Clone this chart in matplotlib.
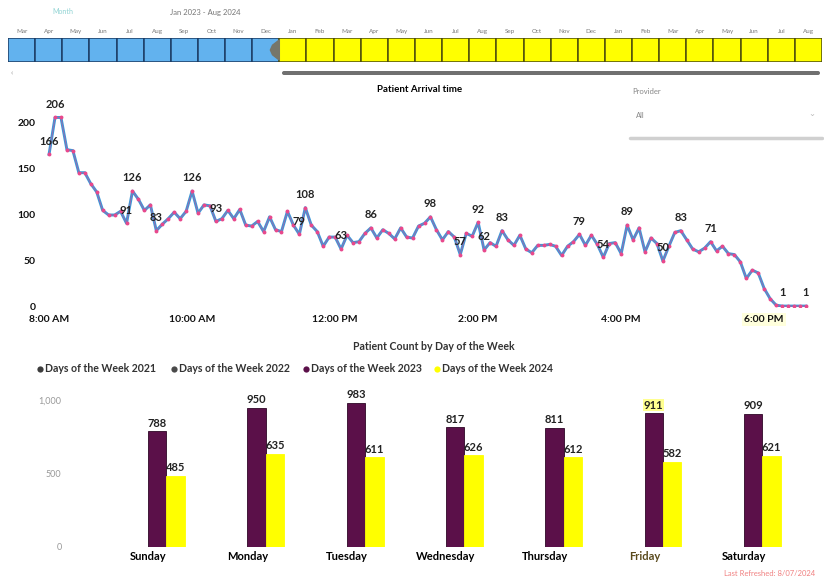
import matplotlib.pyplot as plt
from matplotlib.patches import Polygon, FancyBboxPatch

plt.rcParams['font.family'] = ['Lato', 'DejaVu Sans']

# timeline slicer months (Mar 2022 .. Aug 2024), selected range starts at Jan 2023
months = ['Mar', 'Apr', 'May', 'Jun', 'Jul', 'Aug', 'Sep', 'Oct', 'Nov', 'Dec',
          'Jan', 'Feb', 'Mar', 'Apr', 'May', 'Jun', 'Jul', 'Aug', 'Sep', 'Oct', 'Nov', 'Dec',
          'Jan', 'Feb', 'Mar', 'Apr', 'May', 'Jun', 'Jul', 'Aug']
selected_from = 10

# patient arrivals per 5 minute slot starting at 8:00 AM
arrivals = [166, 206, 206, 171, 170, 146, 146, 134, 125, 105, 100, 100, 104, 91, 126,
            117, 105, 111, 83, 90, 96, 103, 96, 104, 126,
            102, 111, 110, 93, 96, 105, 96, 106, 89, 88, 93, 82, 98, 84, 82,
            104, 89, 79, 108, 89, 82, 66, 76, 76, 63,
            78, 70, 71, 80, 86, 75, 84, 80, 74, 86, 76, 75, 88, 91, 98,
            84, 73, 82, 76, 57, 80, 77, 92, 62, 70,
            66, 83, 73, 67, 78, 63, 59, 67, 67, 68, 66, 56, 66, 71, 79,
            67, 78, 68, 54, 69, 70, 58, 89, 73, 86,
            60, 75, 69, 50, 66, 81, 83, 73, 63, 60, 64, 71, 61, 66, 58,
            57, 49, 31, 40, 37, 20, 9, 2, 1, 1, 1, 1, 1]
slot_minutes = [480 + 5 * i for i in range(len(arrivals))]
# slots whose value is printed on the chart
labelled = [0, 1, 13, 14, 18, 24, 28, 42, 43, 49, 54, 64, 69, 72, 73, 76,
            89, 93, 97, 103, 106, 111, 123, 127]
time_ticks = [480, 600, 720, 840, 960, 1080]
time_labels = ['8:00 AM', '10:00 AM', '12:00 PM', '2:00 PM', '4:00 PM', '6:00 PM']

days = ['Sunday', 'Monday', 'Tuesday', 'Wednesday', 'Thursday', 'Friday', 'Saturday']
years = ['2021', '2022', '2023', '2024']
count_2023 = [788, 950, 983, 817, 811, 911, 909]
count_2024 = [485, 635, 611, 626, 612, 582, 621]
year_colors = ['#3c3c3c', '#4a4a4a', '#5b1049', '#ffff00']

W, H = 824, 581
fig = plt.figure(figsize=(W / 100, H / 100), dpi=100)


def px_axes(l, t, r, b):
    return fig.add_axes([l / W, 1 - b / H, (r - l) / W, (b - t) / H])


# pixel canvas for the report chrome
bg = px_axes(0, 0, W, H)
bg.set_xlim(0, W)
bg.set_ylim(H, 0)
bg.axis('off')

# ---- timeline slicer ----
bg.text(63, 12, 'Month', fontsize=5, color='#8fd3d3', ha='center', va='center')
bg.text(205, 12, 'Jan 2023 - Aug 2024', fontsize=5.5, color='#777777', ha='center', va='center')
tl = px_axes(8, 38, 822, 62)
tl.set_xlim(0, len(months))
tl.set_ylim(0, 1)
tl.axis('off')
for i, m in enumerate(months):
    sel = i >= selected_from
    tl.bar(i, 1, width=1, align='edge', color='#ffff00' if sel else '#62b2ee',
           edgecolor='#4e4e0c' if sel else '#1c3d66', linewidth=1.1)
    tl.text(i + 0.5, 1.28, m, fontsize=4.5, color='#777777', ha='center', va='center', clip_on=False)
tl.add_patch(Polygon([[selected_from, 0.08], [selected_from - 0.25, 0.3], [selected_from - 0.33, 0.5],
                      [selected_from - 0.25, 0.7], [selected_from, 0.92]],
                     closed=True, color='#76766a', zorder=5))
bg.add_patch(FancyBboxPatch((282, 71), 538, 4, boxstyle='round,pad=0,rounding_size=2',
                            color='#707070', lw=0))
bg.text(12, 73, '‹', fontsize=6, color='#999999', ha='center', va='center')

# ---- provider slicer ----
bg.text(632, 92, 'Provider', fontsize=5.5, color='#888888', va='center')
bg.text(636, 115, 'All', fontsize=5.5, color='#888888', va='center')
bg.text(812, 114, '⌄', fontsize=6, color='#bbbbbb', ha='center', va='center')
bg.plot([630, 822], [138, 138], color='#d0d0d0', lw=2.5, solid_capstyle='round')

# ---- patient arrival line chart ----
bg.text(420, 89, 'Patient Arrival time', fontsize=7, fontweight='bold', ha='center', va='center')
lc = px_axes(45, 100, 812, 307)
lc.plot(slot_minutes, arrivals, color='#3a98d8', lw=2.1, zorder=3)
lc.plot(slot_minutes, arrivals, color='#e8488c', lw=0.7, alpha=0.55, zorder=4)
lc.plot(slot_minutes, arrivals, ls='none', color='#e8488c', marker='o', ms=2.8,
        mec='none', zorder=4)
for i in labelled:
    lc.annotate(str(arrivals[i]), (slot_minutes[i], arrivals[i]), xytext=(0, 9.5),
                textcoords='offset points', ha='center', va='center', fontsize=8,
                fontweight='bold', color='#222222', zorder=5)
lc.set_xlim(476.6, 1120.1)
lc.set_ylim(0, 225)
lc.set_yticks([0, 50, 100, 150, 200])
lc.set_xticks(time_ticks)
lc.set_xticklabels(time_labels)
lc.tick_params(length=0, labelsize=7.5, colors='#111111')
lc.tick_params(axis='y', pad=7)
lc.tick_params(axis='x', pad=6)
for lab in lc.get_xticklabels() + lc.get_yticklabels():
    lab.set_fontweight('bold')
lc.get_xticklabels()[-1].set_bbox(dict(facecolor='#ffffdc', edgecolor='none', pad=1.5))
for s in lc.spines.values():
    s.set_visible(False)
lc.patch.set_alpha(0)

# ---- patient count by day of week ----
bg.text(434, 347, 'Patient Count by Day of the Week', fontsize=7.6, fontweight='bold',
        color='#333333', ha='center', va='center')
legend_x = [40, 174, 306, 437]
for x, yr, c in zip(legend_x, years, year_colors):
    bg.plot(x, 369, 'o', ms=4.5, color=c, mec='none')
    bg.text(x + 5, 369, 'Days of the Week ' + yr, fontsize=7.6, fontweight='bold',
            color='#333333', va='center')

bc = px_axes(70, 393, 794, 547)
bar_w = 0.186
offsets = [-1.5 * bar_w, -0.5 * bar_w, 0.5 * bar_w, 1.5 * bar_w]
xs = list(range(len(days)))
for vals, off, c, ec in [(count_2023, offsets[2], year_colors[2], '#2e0626'),
                         (count_2024, offsets[3], year_colors[3], '#ffff00')]:
    pos = [x + off for x in xs]
    bc.bar(pos, vals, width=bar_w, color=c, edgecolor=ec, linewidth=0.6)
    for d, p, v in zip(days, pos, vals):
        t = bc.text(p, v + 18, str(v), fontsize=8, fontweight='bold', color='#222222',
                    ha='center', va='bottom')
        if c == year_colors[2] and d == 'Friday':
            t.set_bbox(dict(facecolor='#ffff90', edgecolor='none', pad=0.5))
bc.set_xlim(-0.785, 6.505)
bc.set_ylim(0, 1050)
bc.set_yticks([0, 500, 1000])
bc.set_yticklabels(['0', '500', '1,000'])
bc.set_xticks(xs)
bc.set_xticklabels(days)
bc.tick_params(length=0)
bc.tick_params(axis='y', labelsize=6.5, colors='#999999', pad=6)
bc.tick_params(axis='x', labelsize=8, pad=3)
for lab in bc.get_xticklabels():
    lab.set_fontweight('bold')
bc.get_xticklabels()[5].set_color('#5a4a1c')
for s in bc.spines.values():
    s.set_visible(False)
bc.patch.set_alpha(0)

bg.text(815, 574, 'Last Refreshed: 8/07/2024', fontsize=5.5, color='#f08080', ha='right', va='center')

fig.savefig('out.png', dpi=100)
